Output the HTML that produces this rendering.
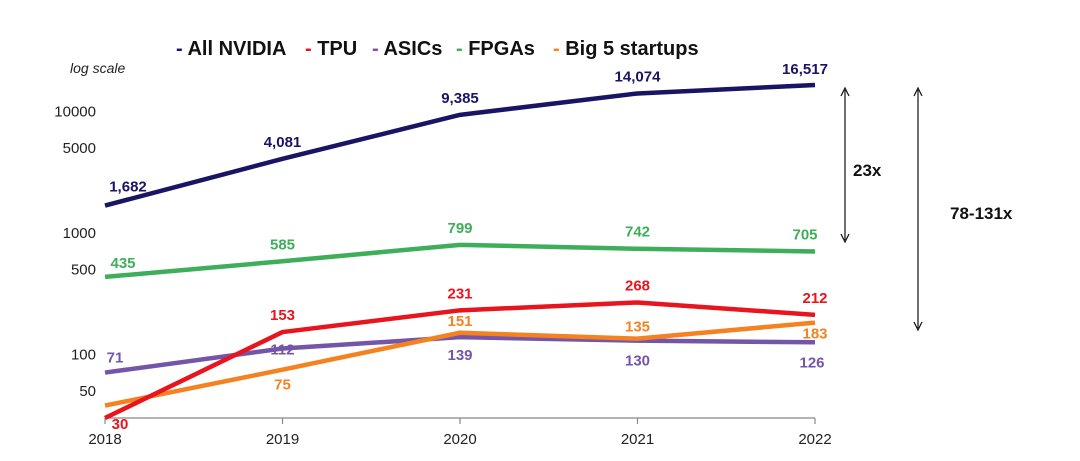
<!DOCTYPE html>
<html><head><meta charset="utf-8">
<style>
html,body{margin:0;padding:0;background:#fff;}
svg{display:block;font-family:"Liberation Sans",Arial,sans-serif;}
</style></head>
<body>
<svg id="chart" width="1080" height="461" viewBox="0 0 1080 461" xmlns="http://www.w3.org/2000/svg">
  <g id="legend" font-size="20" font-weight="bold">
    <text x="176" y="55"><tspan fill="#1a1464">- </tspan><tspan fill="#111">All NVIDIA</tspan></text>
    <text x="305" y="55"><tspan fill="#e8141e">- </tspan><tspan fill="#111">TPU</tspan></text>
    <text x="372" y="55"><tspan fill="#7455a8">- </tspan><tspan fill="#111">ASICs</tspan></text>
    <text x="456" y="55"><tspan fill="#3fae5a">- </tspan><tspan fill="#111">FPGAs</tspan></text>
    <text x="553" y="55"><tspan fill="#f58220">- </tspan><tspan fill="#111">Big 5 startups</tspan></text>
  </g>
  <text x="70" y="73" font-size="14" font-style="italic" fill="#222">log scale</text>
  <g id="axes"></g>
  <g id="series"></g>
  <g id="annot" stroke="#111" stroke-width="1.2">
    <line x1="845" y1="90" x2="845" y2="240"/>
    <path d="M841,96 L845,88 L849,96 M841,234 L845,242 L849,234" fill="none"/>
    <line x1="918" y1="90" x2="918" y2="328"/>
    <path d="M914,96 L918,88 L922,96 M914,322 L918,330 L922,322" fill="none"/>
  </g>
  <text x="853" y="176" font-size="17" font-weight="bold" fill="#111">23x</text>
  <text x="950" y="219" font-size="17" font-weight="bold" fill="#111">78-131x</text>
</svg>
<script>
const years = ["2018","2019","2020","2021","2022"];
const yTicks = [10000, 5000, 1000, 500, 100, 50];
const nvidia = [1682, 4081, 9385, 14074, 16517];
const fpgas = [435, 585, 799, 742, 705];
const tpu = [30, 153, 231, 268, 212];
const asics = [71, 112, 139, 130, 126];
const big5 = [38, 75, 151, 135, 183];
const nvidiaLabels = ["1,682","4,081","9,385","14,074","16,517"];
const fpgaLabels = ["435","585","799","742","705"];
const tpuLabels = ["30","153","231","268","212"];
const asicLabels = ["71","112","139","130","126"];
const big5Labels = ["","75","151","135","183"];

const NS = "http://www.w3.org/2000/svg";
const x0 = 105, xStep = 177.5;
function xPos(i){ return x0 + i * xStep; }
function yPos(v){ return 233 - (Math.log10(v) - 3) * 121.5; }

const axes = document.getElementById('axes');
const sg = document.getElementById('series');
function mk(tag, attrs, parent){
  const el = document.createElementNS(NS, tag);
  for (const k in attrs) el.setAttribute(k, attrs[k]);
  parent.appendChild(el);
  return el;
}
const axisY = 418;
const xl = mk('line', {x1:x0, y1:axisY, x2:xPos(4), y2:axisY, stroke:'#888', 'stroke-width':1.2}, axes);


years.forEach((y,i)=>{
  const t = mk('line', {x1:xPos(i), y1:axisY, x2:xPos(i), y2:axisY+6, stroke:'#888','stroke-width':1.2}, axes);
  
  
  const tx = mk('text', {x:xPos(i), y:444, 'text-anchor':'middle', 'font-size':15, fill:'#222'}, axes);
  tx.textContent = y;
  
  
});
yTicks.forEach(v=>{
  const tx = mk('text', {x:96, y:yPos(v)+5, 'text-anchor':'end', 'font-size':15, fill:'#222'}, axes);
  tx.textContent = String(v);
  
  
});

function drawSeries(name, vals, labels, color, offs){
  const pts = vals.map((v,i)=>xPos(i)+','+yPos(v)).join(' ');
  const pl = mk('polyline', {points:pts, fill:'none', stroke:color, 'stroke-width':4.5, 'stroke-linejoin':'round'}, sg);
  
  
  vals.forEach((v,i)=>{
    if (!labels[i]) return;
    const t = mk('text', {x:xPos(i)+offs[i][0], y:yPos(v)+offs[i][1], 'text-anchor':'middle', 'font-size':15, 'font-weight':'bold', fill:color}, sg);
    t.textContent = labels[i];
    
    
  });
}
drawSeries('fpgas', fpgas, fpgaLabels, '#3fae5a', [[18,-9],[0,-12],[0,-12],[0,-12],[-10,-12]]);
drawSeries('asics', asics, asicLabels, '#7455a8', [[10,-10],[0,6],[0,23],[0,25],[-3,25]]);
drawSeries('big5', big5, big5Labels, '#f58220', [[0,0],[0,20],[0,-7],[0,-7],[0,16]]);
drawSeries('tpu', tpu, tpuLabels, '#e8141e', [[15,11],[0,-12],[0,-12],[0,-12],[0,-12]]);
drawSeries('nvidia', nvidia, nvidiaLabels, '#1a1464', [[23,-14],[0,-12],[0,-12],[0,-12],[-10,-11]]);
</script>
</body></html>
